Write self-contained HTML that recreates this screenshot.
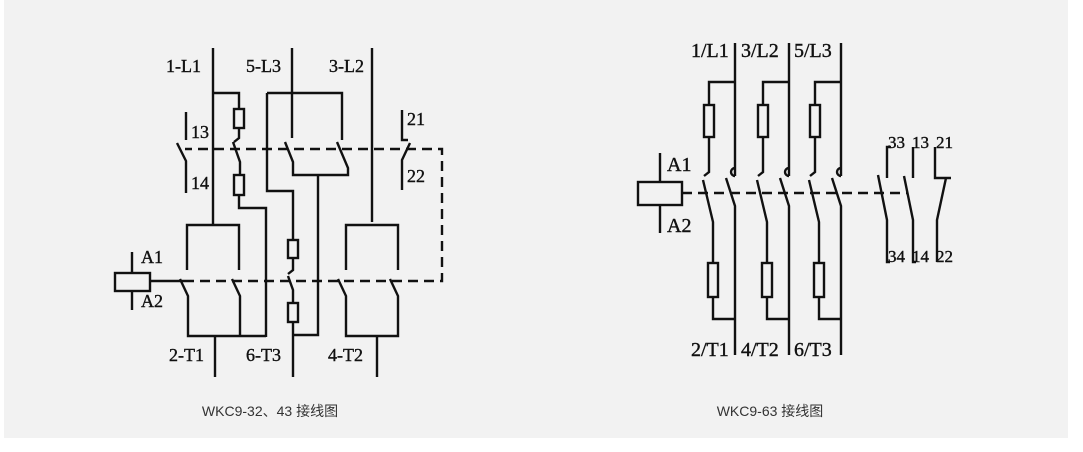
<!DOCTYPE html>
<html><head><meta charset="utf-8"><style>
html,body{margin:0;padding:0;background:#fff;width:1083px;height:452px;overflow:hidden}
svg{display:block}
.t{font-family:"Liberation Serif",serif;font-size:18px;fill:#111;stroke:#111;stroke-width:0.4}
.r{font-size:20px}
.a{font-size:17px}
.c{font-family:"Liberation Sans","Noto Sans CJK SC",sans-serif;font-size:14px;fill:#333}
</style></head><body>
<svg width="1083" height="452" viewBox="0 0 1083 452">
<rect x="4" y="0" width="1064" height="438" fill="#f2f2f2"/>
<g stroke="#111" stroke-width="2.4" fill="none" stroke-linecap="butt">
<path d="M213 48V225"/>
<path d="M213 93H239V109"/><rect x="234" y="109" width="10" height="19" fill="#f2f2f2"/>
<path d="M239 128V138l-5 4"/><path d="M233 142l7 20V175"/>
<rect x="234" y="175" width="10" height="20" fill="#f2f2f2"/>
<path d="M239 195V208H266V337"/>
<path d="M292 48V138"/><path d="M285 142l8 20V175H348V168l-11-26"/>
<path d="M267 93H342V140"/>
<path d="M267 93V191H293V240"/><rect x="288" y="240" width="10" height="18" fill="#f2f2f2"/>
<path d="M293 258V270l-5 4"/><path d="M288 276l5 14V303"/>
<rect x="288" y="303" width="10" height="19" fill="#f2f2f2"/>
<path d="M293 322V377"/>
<path d="M318 175V335H293"/>
<path d="M372 48V222"/>
<path d="M187 270V225H239V270"/>
<path d="M180 279l8 17V336H266"/><path d="M232 279l8 17V336"/>
<path d="M215 336V377"/>
<path d="M346 270V225H398V270"/>
<path d="M338 279l8 17V336H398V296l-8-17"/>
<path d="M377 336V377"/>
<path d="M186 112V140"/><path d="M177 143l9 18V193"/>
<path d="M402 110V140H408"/><path d="M410 143l-8 17V190"/>
<rect x="115" y="273" width="35" height="18"/>
<path d="M132 252V273M132 291V310"/>
<path d="M150 281H184"/>
<path d="M184 281H442V149H185" stroke-dasharray="10 6"/>

<g id="ph">
<path d="M735 43V176"/><path d="M735 168a4 4 0 1 0 0 8"/>
<path d="M726 178l9 28V355"/>
<path d="M735 82H709V105"/><rect x="704" y="105" width="10" height="32" fill="#f2f2f2"/>
<path d="M709 137V172l-5 4"/><path d="M703 180l10 42V263"/>
<rect x="708" y="263" width="10" height="34" fill="#f2f2f2"/>
<path d="M713 297V319H735"/>
</g>
<use href="#ph" x="54"/>
<use href="#ph" x="106"/>
<rect x="638" y="182" width="44" height="23"/>
<path d="M660 153V182M660 205V233"/>
<path d="M682 193H907" stroke-dasharray="10 6"/>
<path d="M891 147H887V178"/><path d="M878 175l9 45V262h3"/>
<path d="M913 147V178"/><path d="M904 176l9 44V262h3"/>
<path d="M935 147V178H951"/><path d="M946 178l-9 42V262"/>
</g>
<g class="t">
<text x="166" y="72">1-L1</text><text x="246" y="72">5-L3</text><text x="329" y="72">3-L2</text>
<text x="191" y="138">13</text><text x="191" y="189">14</text>
<text x="407" y="125">21</text><text x="407" y="182">22</text>
<text x="141" y="263">A1</text><text x="141" y="307">A2</text>
<text x="169" y="361">2-T1</text><text x="246" y="361">6-T3</text><text x="328" y="361">4-T2</text>
<g class="r">
<text x="691" y="57">1/L1</text><text x="741" y="57">3/L2</text><text x="794" y="57">5/L3</text>
<text x="691" y="356">2/T1</text><text x="741" y="356">4/T2</text><text x="794" y="356">6/T3</text>
<text x="667" y="171">A1</text><text x="667" y="232">A2</text>
</g>
<g class="a">
<text x="888" y="148" textLength="17" lengthAdjust="spacingAndGlyphs">33</text><text x="912" y="148" textLength="17" lengthAdjust="spacingAndGlyphs">13</text><text x="936" y="148" textLength="17" lengthAdjust="spacingAndGlyphs">21</text>
<text x="888" y="262" textLength="17" lengthAdjust="spacingAndGlyphs">34</text><text x="912" y="262" textLength="17" lengthAdjust="spacingAndGlyphs">14</text><text x="936" y="262" textLength="17" lengthAdjust="spacingAndGlyphs">22</text>
</g>
</g>
<text class="c" x="270" y="416" text-anchor="middle">WKC9-32、43 接线图</text>
<text class="c" x="770" y="416" text-anchor="middle">WKC9-63 接线图</text>
</svg>
</body></html>
